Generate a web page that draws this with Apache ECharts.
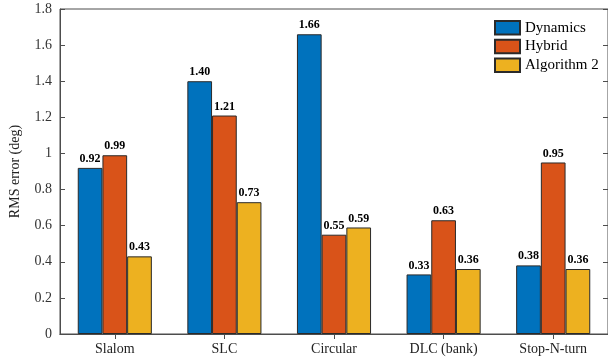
<!DOCTYPE html>
<html><head><meta charset="utf-8">
<script src="https://cdn.jsdelivr.net/npm/echarts@6/dist/echarts.min.js"></script>
<style>html,body{margin:0;padding:0;background:#fff}#c{width:608px;height:360px}</style>
</head><body><div id="c"></div>
<script>
const categories = ['Slalom', 'SLC', 'Circular', 'DLC (bank)', 'Stop-N-turn'];
const dynamics = [0.92, 1.40, 1.66, 0.33, 0.38];
const hybrid = [0.99, 1.21, 0.55, 0.63, 0.95];
const algorithm2 = [0.43, 0.73, 0.59, 0.36, 0.36];
const seriesNames = ['Dynamics', 'Hybrid', 'Algorithm 2'];
const colors = ['#0072BD', '#D95319', '#EDB120'];

const font = "'Liberation Serif', 'Times New Roman', serif";
const axisColor = '#4d4d4d';
const chart = echarts.init(document.getElementById('c'));
function mk(name, data, color) {
  return {
    name, type: 'bar', data, barWidth: 24.7, barGap: '0%',
    itemStyle: { color, borderColor: '#2a2a2a', borderWidth: 1 },
    label: { show: true, position: 'top', distance: 3, fontFamily: font, fontWeight: 'bold', fontSize: 12, color: '#000',
      formatter: p => p.value.toFixed(2) }
  };
}
chart.setOption({
  animation: false,
  textStyle: { fontFamily: font },
  grid: { left: 55.7, right: 0, top: 9, bottom: 26, containLabel: false,
    show: true, borderColor: axisColor, borderWidth: 1, backgroundColor: 'transparent' },
  legend: {
    data: seriesNames, orient: 'vertical', left: 494, top: 20, icon: 'rect',
    itemWidth: 25, itemHeight: 13.5, itemGap: 3.3, padding: 0,
    textStyle: { fontFamily: font, fontSize: 15, lineHeight: 13.5, color: '#000' }
  },
  xAxis: [{
    type: 'category', data: categories, position: 'bottom',
    axisLine: { lineStyle: { color: axisColor } },
    axisTick: { inside: true, alignWithLabel: true, length: 5, lineStyle: { color: axisColor } },
    axisLabel: { fontFamily: font, fontSize: 14, color: '#222', margin: 8 }
  }, {
    type: 'category', data: categories, position: 'top',
    axisLine: { show: true, lineStyle: { color: axisColor } },
    axisTick: { show: true, inside: true, alignWithLabel: true, length: 5, lineStyle: { color: axisColor } },
    axisLabel: { show: false }
  }],
  yAxis: [{
    type: 'value', min: 0, max: 1.8, interval: 0.2,
    name: 'RMS error (deg)', nameLocation: 'middle', nameGap: 38,
    nameTextStyle: { fontFamily: font, fontSize: 14, color: '#222' },
    axisLine: { show: true, lineStyle: { color: axisColor } },
    axisTick: { show: true, inside: true, length: 5, lineStyle: { color: axisColor } },
    axisLabel: { fontFamily: font, fontSize: 14, color: '#333', margin: 8 },
    splitLine: { show: false }
  }, {
    type: 'value', min: 0, max: 1.8, interval: 0.2, position: 'right',
    axisLine: { show: true, lineStyle: { color: axisColor } },
    axisTick: { show: true, inside: true, length: 5, lineStyle: { color: axisColor } },
    axisLabel: { show: false }, splitLine: { show: false }
  }],
  series: [
    mk(seriesNames[0], dynamics, colors[0]),
    mk(seriesNames[1], hybrid, colors[1]),
    mk(seriesNames[2], algorithm2, colors[2])
  ]
});
</script></body></html>
